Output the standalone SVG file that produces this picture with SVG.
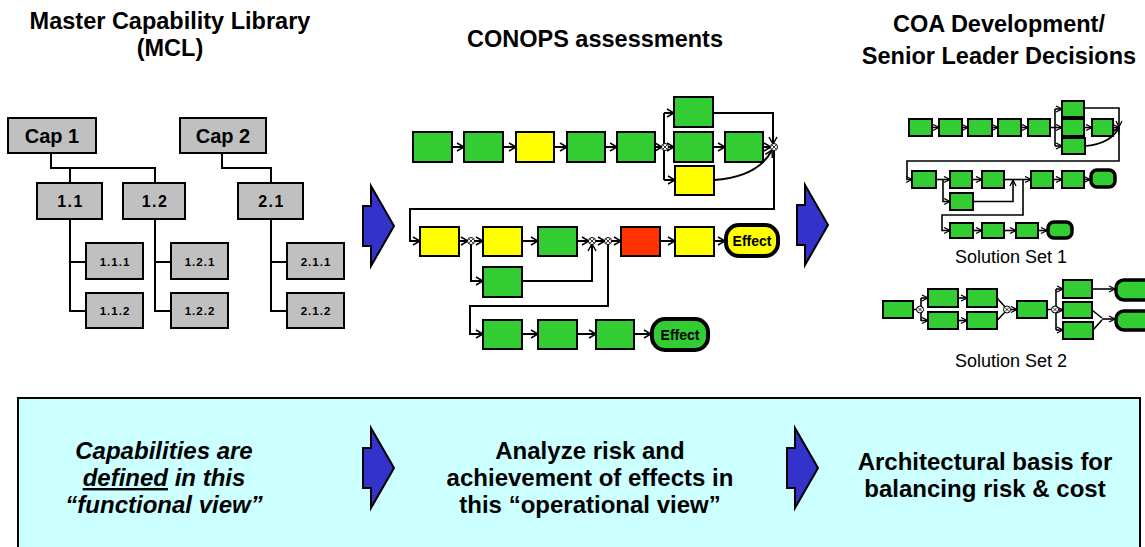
<svg xmlns="http://www.w3.org/2000/svg" width="1145" height="547" viewBox="0 0 1145 547">
<style>
text{font-family:"Liberation Sans",Arial,sans-serif;fill:#000}
.h{font-size:23.5px;font-weight:bold;text-anchor:middle}
.b{font-size:24px;font-weight:bold;text-anchor:middle}
.bi{font-size:24px;font-weight:bold;font-style:italic;text-anchor:middle}
.cap{fill:#c0c0c0;stroke:#000;stroke-width:2}
.t1{font-size:20px;font-weight:bold;text-anchor:middle}
.t2{font-size:16px;font-weight:bold;text-anchor:middle;letter-spacing:1.5px}
.t3{font-size:11.5px;font-weight:bold;text-anchor:middle;letter-spacing:1px}
.g{fill:#33cc33;stroke:#000;stroke-width:2}
.y{fill:#ffff00;stroke:#000;stroke-width:2}
.r{fill:#ff3300;stroke:#000;stroke-width:2}
.sg{fill:#33cc33;stroke:#000;stroke-width:2}
.eff{stroke:#000;stroke-width:4}
.seff{fill:#33cc33;stroke:#000;stroke-width:3.5}
.ln{fill:none;stroke:#000;stroke-width:2}
.lm{fill:none;stroke:#000;stroke-width:2;marker-end:url(#a)}
.ls{fill:none;stroke:#000;stroke-width:1.6}
.lsm{fill:none;stroke:#000;stroke-width:1.6;marker-end:url(#s)}
.j{fill:#fff;stroke:#000;stroke-width:1}
.arr{fill:#3333cc;stroke:#000;stroke-width:2}
.et{font-size:14px;font-weight:bold;text-anchor:middle}
.ss{font-size:18px;text-anchor:middle}
</style>
<defs>
<marker id="a" markerWidth="10" markerHeight="10" refX="9" refY="5" orient="auto" markerUnits="userSpaceOnUse">
<path d="M2,1 L9,5 L2,9" fill="none" stroke="#000" stroke-width="1.5"/>
</marker>
<marker id="s" markerWidth="8" markerHeight="8" refX="7" refY="4" orient="auto" markerUnits="userSpaceOnUse">
<path d="M1,1 L7,4 L1,7" fill="none" stroke="#000" stroke-width="1.3"/>
</marker>
<g id="jx">
<circle r="3.5" class="j"/>
<path d="M-2.2,-2.2 L2.2,2.2 M-2.2,2.2 L2.2,-2.2" stroke="#000" stroke-width="0.8"/>
</g>
<path id="blue" d="M8,0 L31,40 L8,80 L8,60 L0,60 L0,20 L8,20 Z"/>
</defs>

<rect width="1145" height="547" fill="#fff"/>

<!-- Headers -->
<g id="header-mcl">
<text class="h" x="170" y="29">Master Capability Library</text>
<text class="h" x="170" y="56">(MCL)</text>
</g>
<g id="header-conops">
<text class="h" x="595" y="47">CONOPS assessments</text>
</g>
<g id="header-coa">
<text class="h" x="999" y="32">COA Development/</text>
<text class="h" x="999" y="64">Senior Leader Decisions</text>
</g>

<!-- Tree connectors -->
<g id="tree-connectors">
<path class="ln" d="M51,153 V168 H155 V183 M70,168 V183"/>
<path class="ln" d="M222,153 V168 H271 V183"/>
<path class="ln" d="M70,219 V311 H86 M70,262 H86"/>
<path class="ln" d="M155,219 V311 H171 M155,262 H171"/>
<path class="ln" d="M271,219 V311 H287 M271,262 H287"/>
</g>

<!-- Tree nodes -->
<g id="cap1"><rect class="cap" x="8" y="118" width="88" height="35"/><text class="t1" x="52" y="143">Cap 1</text></g>
<g id="cap2"><rect class="cap" x="180" y="118" width="86" height="35"/><text class="t1" x="223" y="143">Cap 2</text></g>
<g id="n1-1"><rect class="cap" x="37" y="183" width="65" height="36"/><text class="t2" x="70.5" y="207">1.1</text></g>
<g id="n1-2"><rect class="cap" x="123" y="183" width="62" height="36"/><text class="t2" x="155" y="207">1.2</text></g>
<g id="n2-1"><rect class="cap" x="238" y="183" width="65" height="36"/><text class="t2" x="271.5" y="207">2.1</text></g>
<g id="n1-1-1"><rect class="cap" x="86" y="243" width="57" height="36"/><text class="t3" x="115" y="266">1.1.1</text></g>
<g id="n1-1-2"><rect class="cap" x="86" y="293" width="57" height="35"/><text class="t3" x="115" y="315">1.1.2</text></g>
<g id="n1-2-1"><rect class="cap" x="171" y="243" width="57" height="36"/><text class="t3" x="200" y="266">1.2.1</text></g>
<g id="n1-2-2"><rect class="cap" x="171" y="293" width="57" height="35"/><text class="t3" x="200" y="315">1.2.2</text></g>
<g id="n2-1-1"><rect class="cap" x="287" y="243" width="57" height="36"/><text class="t3" x="316" y="266">2.1.1</text></g>
<g id="n2-1-2"><rect class="cap" x="287" y="293" width="57" height="35"/><text class="t3" x="316" y="315">2.1.2</text></g>

<!-- Blue arrows -->
<g id="blue-arrows">
<use href="#blue" class="arr" transform="translate(363,186)"/>
<use href="#blue" class="arr" transform="translate(797,185)"/>
</g>

<!-- CONOPS connectors -->
<g id="conops-connectors">
<path class="lm" d="M452,147 H464"/>
<path class="lm" d="M503,147 H516"/>
<path class="lm" d="M554,147 H567"/>
<path class="lm" d="M605,147 H617"/>
<path class="lm" d="M655,147 H662"/>
<path class="lm" d="M668,147 H674"/>
<path class="ln" d="M664,113 V180"/>
<path class="lm" d="M664,113 H674"/>
<path class="lm" d="M664,180 H675"/>
<path class="lm" d="M713,147 H725"/>
<path class="lm" d="M763,147 H771"/>
<path class="lm" d="M713,113 H773 V144"/>
<path class="lm" d="M714,180 Q758,177 772,150"/>
<path class="lm" d="M774,151 V209 H410 V241 H420"/>
<path class="lm" d="M459,241 H468"/>
<path class="lm" d="M474,241 H483"/>
<path class="lm" d="M522,241 H538"/>
<path class="lm" d="M577,241 H589"/>
<path class="lm" d="M596,241 H605"/>
<path class="lm" d="M611,241 H621"/>
<path class="lm" d="M660,241 H675"/>
<path class="lm" d="M714,241 H725"/>
<path class="lm" d="M471,244 V281 H483"/>
<path class="lm" d="M522,281 H592 V244"/>
<path class="lm" d="M608,244 V306 H470 V334 H483"/>
<path class="lm" d="M522,334 H538"/>
<path class="lm" d="M577,334 H596"/>
<path class="lm" d="M634,334 H651"/>
<use href="#jx" x="665" y="147"/>
<use href="#jx" x="774" y="147"/>
<use href="#jx" x="471" y="241"/>
<use href="#jx" x="592" y="241"/>
<use href="#jx" x="608" y="241"/>
</g>

<!-- CONOPS nodes -->
<g id="c1"><rect class="g" x="413" y="132" width="39" height="30"/></g>
<g id="c2"><rect class="g" x="464" y="132" width="39" height="30"/></g>
<g id="c3"><rect class="y" x="516" y="132" width="38" height="30"/></g>
<g id="c4"><rect class="g" x="567" y="132" width="38" height="30"/></g>
<g id="c5"><rect class="g" x="617" y="132" width="38" height="30"/></g>
<g id="c6"><rect class="g" x="674" y="97" width="39" height="30"/></g>
<g id="c7"><rect class="g" x="674" y="132" width="39" height="30"/></g>
<g id="c8"><rect class="g" x="725" y="132" width="38" height="30"/></g>
<g id="c9"><rect class="y" x="675" y="166" width="39" height="29"/></g>
<g id="c10"><rect class="y" x="420" y="227" width="39" height="29"/></g>
<g id="c11"><rect class="y" x="483" y="227" width="39" height="29"/></g>
<g id="c12"><rect class="g" x="538" y="227" width="39" height="29"/></g>
<g id="c13"><rect class="r" x="621" y="227" width="39" height="29"/></g>
<g id="c14"><rect class="y" x="675" y="227" width="39" height="29"/></g>
<g id="effect1"><rect class="eff" x="726" y="225" width="52" height="31" rx="13" fill="#ffff00"/><text class="et" x="752" y="246">Effect</text></g>
<g id="c15"><rect class="g" x="483" y="267" width="39" height="30"/></g>
<g id="c16"><rect class="g" x="483" y="320" width="39" height="29"/></g>
<g id="c17"><rect class="g" x="538" y="320" width="39" height="29"/></g>
<g id="c18"><rect class="g" x="596" y="320" width="38" height="29"/></g>
<g id="effect2"><rect class="eff" x="652" y="319" width="56" height="31" rx="13" fill="#33cc33"/><text class="et" x="680" y="340">Effect</text></g>

<!-- Solution Set 1 -->
<g id="ss1-connectors">
<path class="lsm" d="M932,127.5 H939"/>
<path class="lsm" d="M962,127.5 H968"/>
<path class="lsm" d="M992,127.5 H998"/>
<path class="lsm" d="M1021,127.5 H1028"/>
<path class="ls" d="M1050,127.5 H1055 M1055,109 V146"/>
<path class="lsm" d="M1055,109 H1062"/>
<path class="lsm" d="M1055,127.5 H1062"/>
<path class="lsm" d="M1055,146 H1062"/>
<path class="lsm" d="M1084,127.5 H1092"/>
<path class="lsm" d="M1113,127.5 H1119"/>
<path class="lsm" d="M1084,108 H1119 V127"/>
<path class="lsm" d="M1085,146 Q1110,144 1119,128"/>
<path class="lsm" d="M1119,128 V161 H907 V179.5 H912"/>
<path class="lsm" d="M936,179.5 H950"/>
<path class="lsm" d="M972,179.5 H982"/>
<path class="lsm" d="M1004,179.5 H1031"/>
<path class="lsm" d="M1053,179.5 H1062"/>
<path class="lsm" d="M1084,179.5 H1090"/>
<path class="lsm" d="M943,179.5 V201.5 H950"/>
<path class="lsm" d="M973,201.5 H1013 V180"/>
<path class="lsm" d="M1023,179.5 V215 H942 V230.5 H950"/>
<path class="lsm" d="M973,230.5 H982"/>
<path class="lsm" d="M1004,230.5 H1016"/>
<path class="lsm" d="M1038,230.5 H1047"/>
</g>
<g id="ss1-nodes">
<rect class="sg" x="909" y="119" width="23" height="17"/>
<rect class="sg" x="939" y="119" width="23" height="17"/>
<rect class="sg" x="968" y="119" width="24" height="17"/>
<rect class="sg" x="998" y="119" width="23" height="17"/>
<rect class="sg" x="1028" y="119" width="22" height="17"/>
<rect class="sg" x="1062" y="101" width="22" height="16"/>
<rect class="sg" x="1062" y="119" width="22" height="17"/>
<rect class="sg" x="1092" y="119" width="21" height="17"/>
<rect class="sg" x="1062" y="138" width="23" height="16"/>
<rect class="sg" x="912" y="171" width="24" height="17"/>
<rect class="sg" x="950" y="171" width="22" height="17"/>
<rect class="sg" x="982" y="171" width="22" height="17"/>
<rect class="sg" x="1031" y="171" width="22" height="17"/>
<rect class="sg" x="1062" y="171" width="22" height="17"/>
<rect class="seff" x="1091" y="170" width="24" height="17" rx="6"/>
<rect class="sg" x="950" y="193" width="23" height="17"/>
<rect class="sg" x="950" y="223" width="23" height="15"/>
<rect class="sg" x="982" y="223" width="22" height="15"/>
<rect class="sg" x="1016" y="223" width="22" height="15"/>
<rect class="seff" x="1048" y="222" width="24" height="16" rx="6"/>
<text class="ss" x="1011" y="263">Solution Set 1</text>
</g>

<!-- Solution Set 2 -->
<g id="ss2-connectors">
<path class="ls" d="M913,309.5 H921 M921,298 V321"/>
<path class="lsm" d="M921,298 H928"/>
<path class="lsm" d="M921,320.5 H928"/>
<path class="lsm" d="M958,298 H967"/>
<path class="lsm" d="M958,320.5 H967"/>
<path class="ls" d="M997,298 L1006,308 M997,320.5 L1006,311"/>
<path class="lsm" d="M1007,309.5 H1017"/>
<path class="ls" d="M1047,309.5 H1056 M1056,289 V330"/>
<path class="lsm" d="M1056,289 H1063"/>
<path class="lsm" d="M1056,310 H1063"/>
<path class="lsm" d="M1056,330 H1063"/>
<path class="lsm" d="M1092,289 H1115"/>
<path class="ls" d="M1092,310 L1102,318 M1093,330 L1102,320"/>
<path class="lsm" d="M1102,319 H1115"/>
<use href="#jx" x="920" y="309.5"/>
<use href="#jx" x="1007" y="309.5"/>
<use href="#jx" x="1055" y="309.5"/>
</g>
<g id="ss2-nodes">
<rect class="sg" x="883" y="301" width="30" height="17"/>
<rect class="sg" x="928" y="289" width="30" height="18"/>
<rect class="sg" x="928" y="312" width="30" height="17"/>
<rect class="sg" x="967" y="289" width="30" height="18"/>
<rect class="sg" x="967" y="312" width="30" height="17"/>
<rect class="sg" x="1017" y="301" width="30" height="17"/>
<rect class="sg" x="1063" y="280" width="29" height="18"/>
<rect class="sg" x="1063" y="302" width="29" height="16"/>
<rect class="sg" x="1063" y="322" width="30" height="17"/>
<rect class="seff" x="1116" y="280" width="40" height="20" rx="8"/>
<rect class="seff" x="1116" y="311" width="40" height="19" rx="8"/>
<text class="ss" x="1011" y="367">Solution Set 2</text>
</g>

<!-- Bottom panel -->
<g id="bottom-panel">
<rect x="18" y="398" width="1122" height="160" fill="#ccffff" stroke="#000" stroke-width="2"/>
<text class="bi" x="164" y="459">Capabilities are</text>
<text class="bi" x="164" y="486"><tspan text-decoration="underline">defined</tspan> in this</text>
<text class="bi" x="164" y="513">“functional view”</text>
<use href="#blue" class="arr" transform="translate(363,428)"/>
<text class="b" x="590" y="459">Analyze risk and</text>
<text class="b" x="590" y="486">achievement of effects in</text>
<text class="b" x="590" y="513">this “operational view”</text>
<use href="#blue" class="arr" transform="translate(787,428)"/>
<text class="b" x="985" y="470">Architectural basis for</text>
<text class="b" x="985" y="497">balancing risk &amp; cost</text>
</g>
</svg>
